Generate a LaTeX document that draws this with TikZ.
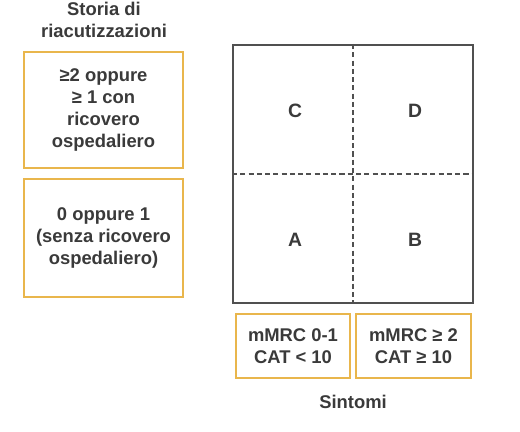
\documentclass[tikz,border=0pt]{standalone}
\usepackage{fontspec}
\setmainfont{Liberation Sans}
\usepackage{tikz}

\definecolor{textgray}{HTML}{3A3A3A}
\definecolor{linegray}{HTML}{505050}
\definecolor{boxorange}{HTML}{E9B64C}

\begin{document}
\begin{tikzpicture}[
    x=0.75pt, y=-0.75pt,
    every node/.style={text=textgray, font=\bfseries\fontsize{13.8}{16.3}\selectfont, align=center},
    critbox/.style={draw=boxorange, line width=1.5pt, inner sep=0pt},
    quadrant/.style={font=\bfseries\fontsize{14.5}{16}\selectfont},
    divider/.style={draw=linegray, line width=1.5pt, dash pattern=on 3.8pt off 2.4pt}
  ]
  \useasboundingbox (0,0) rectangle (520,431);

  % Axis titles
  \node (riacut) at (104,20) {Storia di\\riacutizzazioni};
  \node (sintomi) at (353,402) {Sintomi};

  % Exacerbation boxes
  \node[critbox, minimum width=119.25pt, minimum height=87pt] (alto) at (103.5,110)
    {≥2 oppure\\≥ 1 con\\ricovero\\ospedaliero};
  \node[critbox, minimum width=119.25pt, minimum height=88.5pt] (basso) at (103.5,238)
    {0 oppure 1\\(senza ricovero\\ospedaliero)};

  % Symptom boxes
  \node[critbox, minimum width=85.5pt, minimum height=48pt] (pochi) at (293,346)
    {mMRC 0-1\\CAT < 10};
  \node[critbox, minimum width=86.25pt, minimum height=48pt] (molti) at (413.5,346)
    {mMRC ≥ 2\\CAT ≥ 10};

  % Grid
  \node[draw=linegray, line width=1.5pt, minimum width=180pt, minimum height=193.5pt,
        inner sep=0pt] (grid) at (353,174) {};
  \draw[divider] (grid.north) -- (grid.south);
  \draw[divider] (grid.west) -- (grid.east);

  % Groups
  \node[quadrant] (C) at (295,111) {C};
  \node[quadrant] (D) at (415,111) {D};
  \node[quadrant] (A) at (295,240) {A};
  \node[quadrant] (B) at (415,240) {B};
\end{tikzpicture}
\end{document}
